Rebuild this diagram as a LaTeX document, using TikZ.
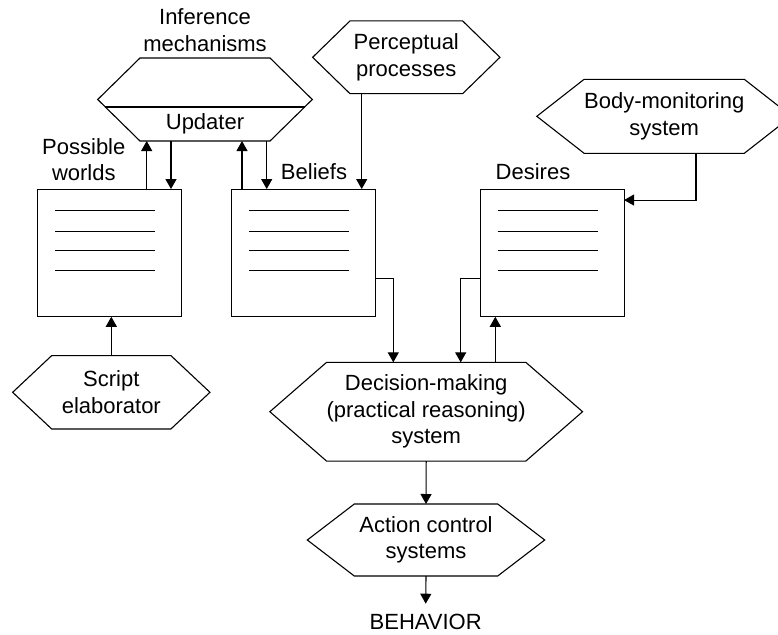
\documentclass[tikz,border=0pt]{standalone}
\usepackage{fontspec}
\setmainfont{Liberation Sans}
\usetikzlibrary{arrows.meta}

\begin{document}
\begin{tikzpicture}[x=1pt, y=-1pt, line width=1.1pt,
    every node/.style={font=\fontsize{22}{26.5}\selectfont, align=center, inner sep=0pt, outer sep=0pt},
    store/.style={draw, minimum width=144pt, minimum height=127.7pt},
    arr/.style={-{Triangle[length=10pt, width=11pt]}}]
    \useasboundingbox (0, 0) rectangle (778, 634);

    % hexagon boxes (outline drawn below)
    \node (infer) [minimum width=130pt, minimum height=83pt] at (205, 99.5) {};
    \node (upd) at (205, 124) {Updater};
    \node (inflabel) at (205, 30) {Inference\\mechanisms};
    \node (perc) [minimum width=112.7pt, minimum height=72.7pt] at (406.3, 57.3) {Perceptual\\processes};
    \node (body) [minimum width=151.7pt, minimum height=74pt] at (664.2, 116.3) {Body-monitoring\\system};
    \node (script) [minimum width=119.3pt, minimum height=73.3pt] at (111.3, 392.3) {Script\\elaborator};
    \node (dec) [minimum width=171pt, minimum height=98.7pt] at (426.2, 411.7) {Decision-making\\(practical reasoning)\\system};
    \node (act) [minimum width=143.4pt, minimum height=72pt] at (426, 540) {Action control\\systems};
    \node (behav) [inner ysep=10pt] at (425.7, 621.5) {BEHAVIOR};

    \foreach \n/\d in {infer/42.3, perc/37.3, body/47.3, script/39, dec/56.7, act/47}
      \draw (\n.north west) -- (\n.north east) -- ([xshift=\d pt]\n.east) -- (\n.south east)
        -- (\n.south west) -- ([xshift=-\d pt]\n.west) -- cycle;
    \draw ([xshift=-34.7pt, yshift=-7.5pt]infer.west) -- ([xshift=34.7pt, yshift=-7.5pt]infer.east);

    % stores
    \node (pw) [store] at (109.7, 252.9) {};
    \node (bel) [store] at (303.7, 252.9) {};
    \node (des) [store, minimum width=143.7pt] at (552.2, 252.9) {};
    \foreach \b in {pw, bel, des}
      \foreach \dy in {21, 42, 61.5, 81}
        \draw ([xshift=17.3pt, yshift=-\dy pt]\b.north west) -- ++(100.3, 0);

    \node (pwlabel) at (83.8, 159.7) {Possible\\worlds};
    \node (bellabel) at (314, 171.8) {Beliefs};
    \node (deslabel) at (533, 171.8) {Desires};

    % arrows
    \draw [arr] ([xshift=37pt]pw.north) -- ([xshift=37pt]pw.north |- infer.south);
    \draw [arr] ([xshift=61.3pt]pw.north |- infer.south) -- ([xshift=61.3pt]pw.north);
    \draw [arr] ([xshift=-61.7pt]bel.north) -- ([xshift=-61.7pt]bel.north |- infer.south);
    \draw [arr] ([xshift=-37pt]bel.north |- infer.south) -- ([xshift=-37pt]bel.north);
    \draw [arr] ([xshift=-44.6pt]perc.south) -- ([xshift=-44.6pt]perc.south |- bel.north);
    \draw [arr] ([xshift=31.8pt]body.south) |- ([yshift=-11pt]des.north east);
    \draw [arr] (script.north) -- (script.north |- pw.south);
    \draw [arr] ([yshift=-25.4pt]bel.east) -| ([xshift=-32.9pt]dec.north);
    \draw [arr] ([yshift=-25.4pt]des.west) -| ([xshift=34.5pt]dec.north);
    \draw [arr] ([xshift=69.1pt]dec.north) -- ([xshift=69.1pt]dec.north |- des.south);
    \draw [arr] (dec.south) -- (act.north);
    \draw [arr] (act.south) -- (behav.north);
\end{tikzpicture}
\end{document}
